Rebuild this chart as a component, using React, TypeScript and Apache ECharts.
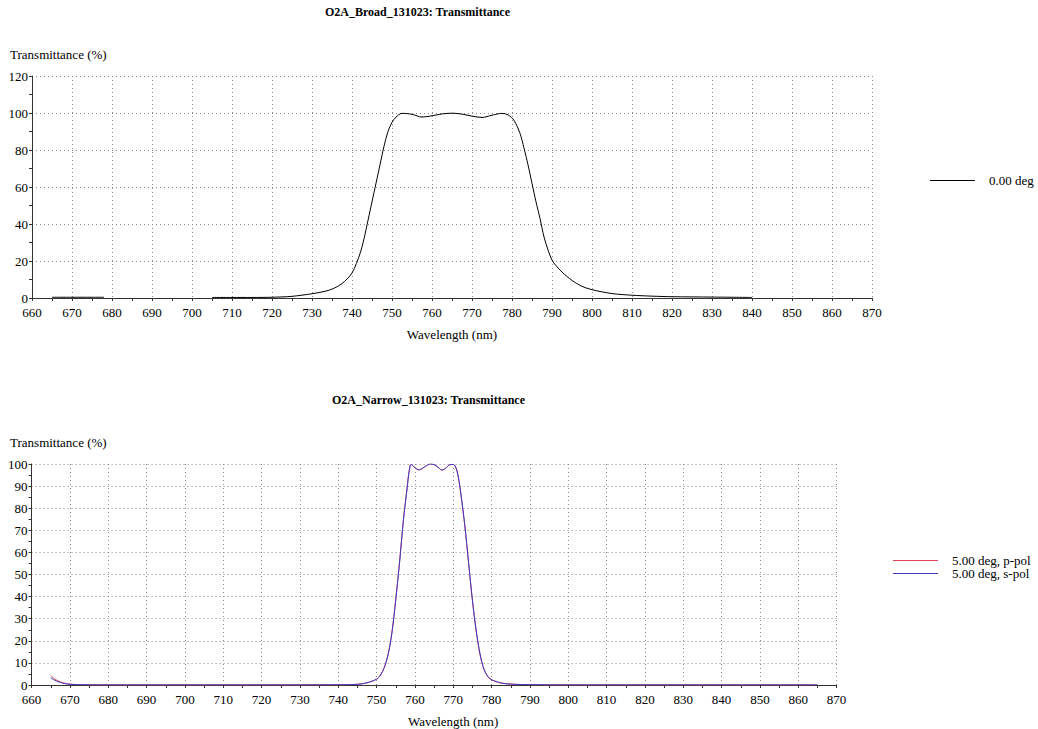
import React, { useEffect, useRef } from "react";
import * as echarts from "echarts";

// ---------- Data ----------
const broadTitle = "O2A_Broad_131023: Transmittance";
const narrowTitle = "O2A_Narrow_131023: Transmittance";
const yName = "Transmittance (%)";
const xName = "Wavelength (nm)";

const broadName = "0.00 deg";
const broadWl = [
  665, 670, 675, 678, 690, 705, 710, 715, 720, 725, 730, 733, 735, 737.5, 740, 742, 743, 744, 745, 746,
  747, 748, 749, 750, 751, 752.5, 755, 757.5, 760, 762.5, 765, 767.5, 770, 772.5, 775, 777.5, 779, 780.5,
  782, 783, 784, 785, 786, 787, 788, 789, 790, 791, 792.5, 795, 797.5, 800, 805, 810, 815, 820, 830, 840,
];
const broadT: (number | null)[] = [
  0.4, 0.4, 0.4, 0.4, null, 0.3, 0.3, 0.3, 0.4, 0.9, 2.3, 3.5, 4.8, 7.8, 13.5, 24, 32, 42, 52, 62,
  72, 82, 90, 95, 97.8, 99.8, 99.3, 97.8, 98.5, 99.5, 99.9, 99.4, 98.3, 97.6, 98.8, 99.8, 99, 96,
  89, 81, 72, 62, 52, 43, 33, 26, 20.5, 17.5, 14, 9.5, 6.3, 4.5, 2.4, 1.5, 1.0, 0.7, 0.5, 0.3,
];

const pName = "5.00 deg, p-pol";
const sName = "5.00 deg, s-pol";
const narrowWl = [
  665, 666, 667, 668, 669, 670, 672, 675, 680, 700, 720, 740, 745, 747.5, 750, 751, 752, 753, 754, 755,
  756, 757, 758, 758.5, 759, 760, 761, 762, 763, 764, 765, 766, 767, 768, 769, 770, 770.5, 771, 771.5,
  772, 773, 774, 775, 776, 777, 778, 779, 780, 782.5, 785, 790, 800, 820, 840, 865,
];
const narrowP = [
  4.2, 2.8, 1.8, 1.1, 0.7, 0.4, 0.2, 0.1, 0.05, 0.05, 0.05, 0.1, 0.3, 1, 2.7, 4.5, 8, 14, 24, 39,
  56, 75, 90, 97, 99.8, 98.3, 97.3, 98, 99.3, 100, 99.7, 98.6, 97.2, 98, 99.6, 99.8, 99, 96.5, 92,
  86, 72, 55, 38, 24, 13.5, 7, 3.8, 2.3, 0.9, 0.4, 0.15, 0.05, 0.05, 0.05, 0.05,
];
const narrowS = [
  3.2, 2.2, 1.4, 0.9, 0.5, 0.3, 0.15, 0.08, 0.05, 0.05, 0.05, 0.1, 0.3, 1, 2.6, 4.4, 7.8, 13.6, 23.5, 38.5,
  55.5, 74.5, 89.5, 96.8, 99.8, 98.4, 97.4, 98.1, 99.3, 100, 99.7, 98.6, 97.3, 98.1, 99.6, 99.8, 99.1, 96.8, 92.5,
  86.5, 72.5, 55.5, 38.5, 24.5, 14, 7.2, 3.9, 2.4, 0.9, 0.4, 0.15, 0.05, 0.05, 0.05, 0.05,
];

const xMin = 660;
const xMax = 870;
const xStep = 10;
const broadYMax = 120;
const broadYStep = 20;
const narrowYMax = 100;
const narrowYStep = 10;

// ---------- Styles ----------
const FONT = "Liberation Serif";
const AXIS_COLOR = "#333";
const GRID_COLOR = "#8a8a8a";
const FS = 13;

function pairs(xs: number[], ys: (number | null)[]) {
  return xs.map((x, i) => [x, ys[i] === null ? "-" : ys[i]]);
}

function xAxisCfg(gridIndex: number, namePad: number[]) {
  return {
    type: "value",
    gridIndex,
    min: xMin,
    max: xMax,
    interval: xStep,
    name: xName,
    nameLocation: "middle",
    nameGap: 30,
    nameTextStyle: { fontFamily: FONT, fontSize: FS, color: "#000", padding: namePad },
    axisLine: { onZero: false, lineStyle: { color: AXIS_COLOR, width: 1 } },
    axisTick: { show: true, length: 3, lineStyle: { color: AXIS_COLOR } },
    minorTick: { show: true, splitNumber: 2, length: 3, lineStyle: { color: AXIS_COLOR } },
    axisLabel: { fontFamily: FONT, fontSize: FS, color: "#000", margin: 8 },
    splitLine: { show: true, lineStyle: { color: GRID_COLOR, type: [1, 3], width: 1 } },
  };
}

function yAxisCfg(gridIndex: number, max: number, step: number) {
  return {
    type: "value",
    gridIndex,
    min: 0,
    max,
    interval: step,
    axisLine: { show: true, lineStyle: { color: AXIS_COLOR, width: 1 } },
    axisTick: { show: true, length: 3, lineStyle: { color: AXIS_COLOR } },
    minorTick: { show: true, splitNumber: 2, length: 3, lineStyle: { color: AXIS_COLOR } },
    axisLabel: { fontFamily: FONT, fontSize: FS, color: "#000", margin: 4 },
    splitLine: { show: true, lineStyle: { color: GRID_COLOR, type: [1, 3], width: 1 } },
  };
}

export default function App() {
  const ref = useRef<HTMLDivElement>(null);

  useEffect(() => {
    if (!ref.current) return;
    const chart = echarts.init(ref.current, undefined, { renderer: "svg" });
    const titleStyle = { fontFamily: FONT, fontSize: 12, fontWeight: "bold", color: "#000" };
    const nameStyle = { fontFamily: FONT, fontSize: FS, fontWeight: "normal", color: "#000" };
    const option = {
      animation: false,
      backgroundColor: "#fff",
      textStyle: { fontFamily: FONT },
      title: [
        { text: broadTitle, left: 325, top: 6, padding: 0, textStyle: titleStyle },
        { text: narrowTitle, left: 332, top: 394, padding: 0, textStyle: titleStyle },
        { text: yName, left: 10, top: 48, padding: 0, textStyle: nameStyle },
        { text: yName, left: 10, top: 436, padding: 0, textStyle: nameStyle },
      ],
      legend: [
        {
          data: [broadName],
          left: 930,
          top: 174,
          padding: 0,
          icon: "rect",
          itemWidth: 45,
          itemHeight: 1,
          selectedMode: false,
          textStyle: { fontFamily: FONT, fontSize: FS, color: "#000", padding: [0, 0, 0, 9] },
        },
        {
          data: [pName, sName],
          orient: "vertical",
          left: 893,
          top: 554,
          padding: 0,
          itemGap: 0,
          icon: "rect",
          itemWidth: 45,
          itemHeight: 1,
          selectedMode: false,
          textStyle: { fontFamily: FONT, fontSize: FS, color: "#000", padding: [0, 0, 0, 9], lineHeight: 13 },
        },
      ],
      grid: [
        { left: 32, right: 166, top: 76, bottom: 431, containLabel: false },
        { left: 31.6, right: 201.4, top: 464, bottom: 44, containLabel: false },
      ],
      xAxis: [xAxisCfg(0, [0, 0, 0, 0]), xAxisCfg(1, [0, 0, 0, 38])],
      yAxis: [yAxisCfg(0, broadYMax, broadYStep), yAxisCfg(1, narrowYMax, narrowYStep)],
      series: [
        {
          name: broadName,
          type: "line",
          xAxisIndex: 0,
          yAxisIndex: 0,
          data: pairs(broadWl, broadT),
          showSymbol: false,
          symbol: "none",
          smooth: 0.3,
          connectNulls: false,
          color: "#000",
          lineStyle: { color: "#000", width: 1 },
        },
        {
          name: pName,
          type: "line",
          xAxisIndex: 1,
          yAxisIndex: 1,
          data: pairs(narrowWl, narrowP),
          showSymbol: false,
          symbol: "none",
          smooth: 0.3,
          color: "#e0475a",
          lineStyle: { color: "#e0475a", width: 1 },
        },
        {
          name: sName,
          type: "line",
          xAxisIndex: 1,
          yAxisIndex: 1,
          data: pairs(narrowWl, narrowS),
          showSymbol: false,
          symbol: "none",
          smooth: 0.3,
          color: "#3a3ac4",
          lineStyle: { color: "#3a3ac4", width: 1 },
        },
      ],
    };
    chart.setOption(option as any);
    return () => chart.dispose();
  }, []);

  return (
    <div
      ref={ref}
      style={{ position: "absolute", left: 0, top: 0, width: 1038, height: 729, background: "#fff" }}
    />
  );
}
